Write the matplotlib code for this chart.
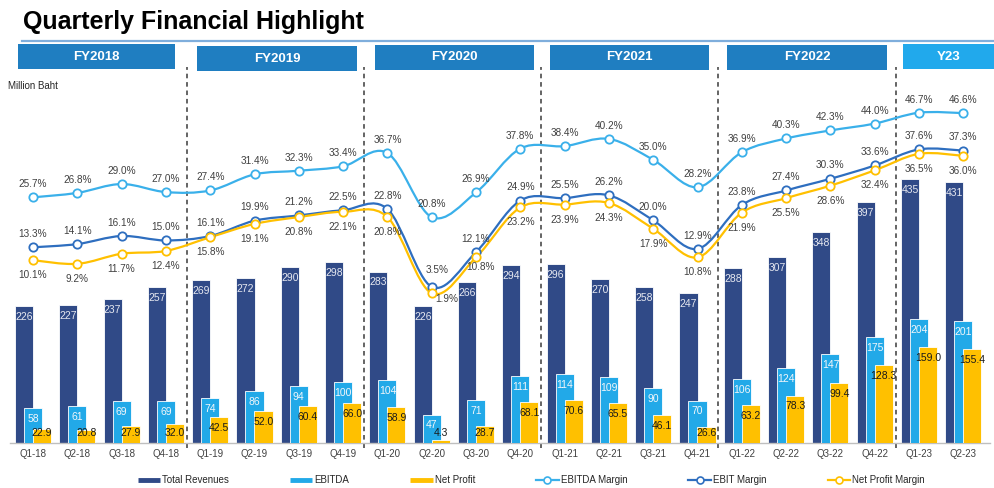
import matplotlib
matplotlib.use("Agg")
import matplotlib.pyplot as plt
from matplotlib.path import Path
from matplotlib.patches import PathPatch, Rectangle
from matplotlib.lines import Line2D
import matplotlib.transforms as mtransforms

plt.rcParams['font.family'] = ['Liberation Sans', 'DejaVu Sans']

# ---- data ----
quarters = ['Q1-18', 'Q2-18', 'Q3-18', 'Q4-18', 'Q1-19', 'Q2-19', 'Q3-19', 'Q4-19',
            'Q1-20', 'Q2-20', 'Q3-20', 'Q4-20', 'Q1-21', 'Q2-21', 'Q3-21', 'Q4-21',
            'Q1-22', 'Q2-22', 'Q3-22', 'Q4-22', 'Q1-23', 'Q2-23']
revenues = [226, 227, 237, 257, 269, 272, 290, 298, 283, 226, 266, 294,
            296, 270, 258, 247, 288, 307, 348, 397, 435, 431]
ebitda = [58, 61, 69, 69, 74, 86, 94, 100, 104, 47, 71, 111,
          114, 109, 90, 70, 106, 124, 147, 175, 204, 201]
net_profit = [22.9, 20.8, 27.9, 32.0, 42.5, 52.0, 60.4, 66.0, 58.9, 4.3, 28.7, 68.1,
              70.6, 65.5, 46.1, 26.6, 63.2, 78.3, 99.4, 128.3, 159.0, 155.4]
ebitda_margin = [25.7, 26.8, 29.0, 27.0, 27.4, 31.4, 32.3, 33.4, 36.7, 20.8, 26.9, 37.8,
                 38.4, 40.2, 35.0, 28.2, 36.9, 40.3, 42.3, 44.0, 46.7, 46.6]
ebit_margin = [13.3, 14.1, 16.1, 15.0, 16.1, 19.9, 21.2, 22.5, 22.8, 3.5, 12.1, 24.9,
               25.5, 26.2, 20.0, 12.9, 23.8, 27.4, 30.3, 33.6, 37.6, 37.3]
np_margin = [10.1, 9.2, 11.7, 12.4, 15.8, 19.1, 20.8, 22.1, 20.8, 1.9, 10.8, 23.2,
             23.9, 24.3, 17.9, 10.8, 21.9, 25.5, 28.6, 32.4, 36.5, 36.0]
years = ['FY2018', 'FY2019', 'FY2020', 'FY2021', 'FY2022', 'Y23']

# colours
C_REV = '#304A87'
C_EBITDA = '#22A9E8'
C_NP = '#FFC000'
C_EM = '#3AB0EA'
C_EBIT = '#2E6EBF'
C_NPM = '#FFC000'
C_TXT = '#404040'

W, H = 995, 488
fig = plt.figure(figsize=(W / 100, H / 100), dpi=100)


def fx(px):
    return px / W


def fy(py):
    return 1 - py / H


# main axes (pixel layout)
ax = fig.add_axes([fx(10), fy(443), fx(980), 376 / H])
x = list(range(len(quarters)))
ax.set_xlim((10 - 33) / 44.3, (990 - 33) / 44.3)
ax.set_ylim(0, 376 / 0.606)

bw = 0.41
off = 0.203
ax.bar([i - off for i in x], revenues, width=bw, color=C_REV, edgecolor='white', linewidth=0.6, zorder=2)
ax.bar(x, ebitda, width=bw, color=C_EBITDA, edgecolor='white', linewidth=0.6, zorder=3)
ax.bar([i + off for i in x], net_profit, width=bw, color=C_NP, edgecolor='white', linewidth=0.6, zorder=4)

for i in x:
    ax.text(i - off, revenues[i] - 18, f'{revenues[i]}', ha='center', va='center',
            fontsize=7.5, color='#E6E8F0', zorder=5)
    ax.text(i, ebitda[i] - 18, f'{ebitda[i]}', ha='center', va='center',
            fontsize=7.5, color='#F2F6FA', zorder=5)
    ax.text(i + off, max(net_profit[i], 34) - 18, f'{net_profit[i]:.1f}', ha='center', va='center',
            fontsize=7.5, color='#1A1A1A', zorder=6)

ax.set_xticks(x)
ax.set_xticklabels(quarters, fontsize=7, color=C_TXT)
ax.tick_params(axis='x', length=0, pad=4)
ax.set_yticks([])
for s in ['left', 'right', 'top']:
    ax.spines[s].set_visible(False)
ax.spines['bottom'].set_color('#BFBFBF')
ax.spines['bottom'].set_linewidth(1.0)

# year separators
trans = mtransforms.blended_transform_factory(ax.transData, ax.transAxes)
for b in [4, 8, 12, 16, 20]:
    ax.plot([b - 0.53, b - 0.53], [-5 / 376, 1.0], transform=trans, color='#3A3A3A',
            linestyle=(0, (3, 2.5)), linewidth=1.1, clip_on=False, zorder=1)

# margin lines on twin axis
ax2 = ax.twinx()
ax2.set_ylim(-142.1 / 4.03, (300.9 - 67) / 4.03)
ax2.set_yticks([])
for s in ax2.spines.values():
    s.set_visible(False)


def smooth_path(xs, ys):
    verts = [(xs[0], ys[0])]
    codes = [Path.MOVETO]
    n = len(xs)
    for i in range(n - 1):
        x0, y0 = xs[max(i - 1, 0)], ys[max(i - 1, 0)]
        x1, y1 = xs[i], ys[i]
        x2, y2 = xs[i + 1], ys[i + 1]
        x3, y3 = xs[min(i + 2, n - 1)], ys[min(i + 2, n - 1)]
        verts += [(x1 + (x2 - x0) / 6, y1 + (y2 - y0) / 6),
                  (x2 - (x3 - x1) / 6, y2 - (y3 - y1) / 6),
                  (x2, y2)]
        codes += [Path.CURVE4] * 3
    return Path(verts, codes)


series = [(ebitda_margin, C_EM, 9.4), (ebit_margin, C_EBIT, 9.6), (np_margin, C_NPM, -10.8)]
special = {(1, 9): (3.6, 12.0), (2, 9): (11.0, -4.5), (2, 10): (3.6, -7.0)}
for k, (vals, col, dy) in enumerate(series):
    ax2.add_patch(PathPatch(smooth_path(x, vals), facecolor='none', edgecolor=col,
                            linewidth=1.6, zorder=3))
    ax2.plot(x, vals, linestyle='none', marker='o', markersize=6, markerfacecolor='white',
             markeredgecolor=col, markeredgewidth=1.3, zorder=4)
    for i, v in enumerate(vals):
        ddx, ddy = special.get((k, i), (0, dy))
        ax2.annotate(f'{v:.1f}%', (i, v), xytext=(ddx, ddy), textcoords='offset points',
                     ha='center', va='center', fontsize=7.2, color=C_TXT, zorder=5)

# title and rule
fig.text(fx(23), fy(29.5), 'Quarterly Financial Highlight', fontsize=18, fontweight='bold',
         color='black', va='baseline', ha='left')
fig.add_artist(Line2D([fx(22), fx(995)], [fy(41), fy(41)], color='#7FAEDC', linewidth=1.6))

# year header boxes
boxes = [(18, 44, 175, 69), (197, 46, 357, 71), (375, 45, 534, 70),
         (550, 45, 709, 70), (727, 45, 887, 70), (903, 44, 995, 69)]
for j, (x0, y0, x1, y1) in enumerate(boxes):
    col = '#21A9EC' if j == len(boxes) - 1 else '#1F7EC1'
    fig.add_artist(Rectangle((fx(x0), fy(y1)), fx(x1 - x0), (y1 - y0) / H,
                             transform=fig.transFigure, facecolor=col, edgecolor='none'))
    fig.text(fx((x0 + x1) / 2), fy((y0 + y1) / 2), years[j], ha='center', va='center',
             fontsize=9.5, fontweight='bold', color='white')

fig.text(fx(8), fy(86), 'Million Baht', fontsize=7, color='#262626', ha='left', va='center')

# legend
handles = [
    Line2D([], [], color=C_REV, linewidth=3.5, solid_capstyle='butt'),
    Line2D([], [], color=C_EBITDA, linewidth=3.5, solid_capstyle='butt'),
    Line2D([], [], color=C_NP, linewidth=3.5, solid_capstyle='butt'),
    Line2D([], [], color=C_EM, linewidth=1.6, marker='o', markersize=5,
           markerfacecolor='white', markeredgecolor=C_EM, markeredgewidth=1.2),
    Line2D([], [], color=C_EBIT, linewidth=1.6, marker='o', markersize=5,
           markerfacecolor='white', markeredgecolor=C_EBIT, markeredgewidth=1.2),
    Line2D([], [], color=C_NPM, linewidth=1.6, marker='o', markersize=5,
           markerfacecolor='white', markeredgecolor=C_NPM, markeredgewidth=1.2),
]
labels = ['Total Revenues', 'EBITDA', 'Net Profit', 'EBITDA Margin', 'EBIT Margin', 'Net Profit Margin']
fig.legend(handles, labels, loc='center', bbox_to_anchor=(fx(531), fy(480)), ncol=6,
           frameon=False, fontsize=7, handlelength=2.3, handletextpad=0.2,
           columnspacing=6.3, borderpad=0, labelcolor='#262626')

fig.savefig('out.png', dpi=100)
